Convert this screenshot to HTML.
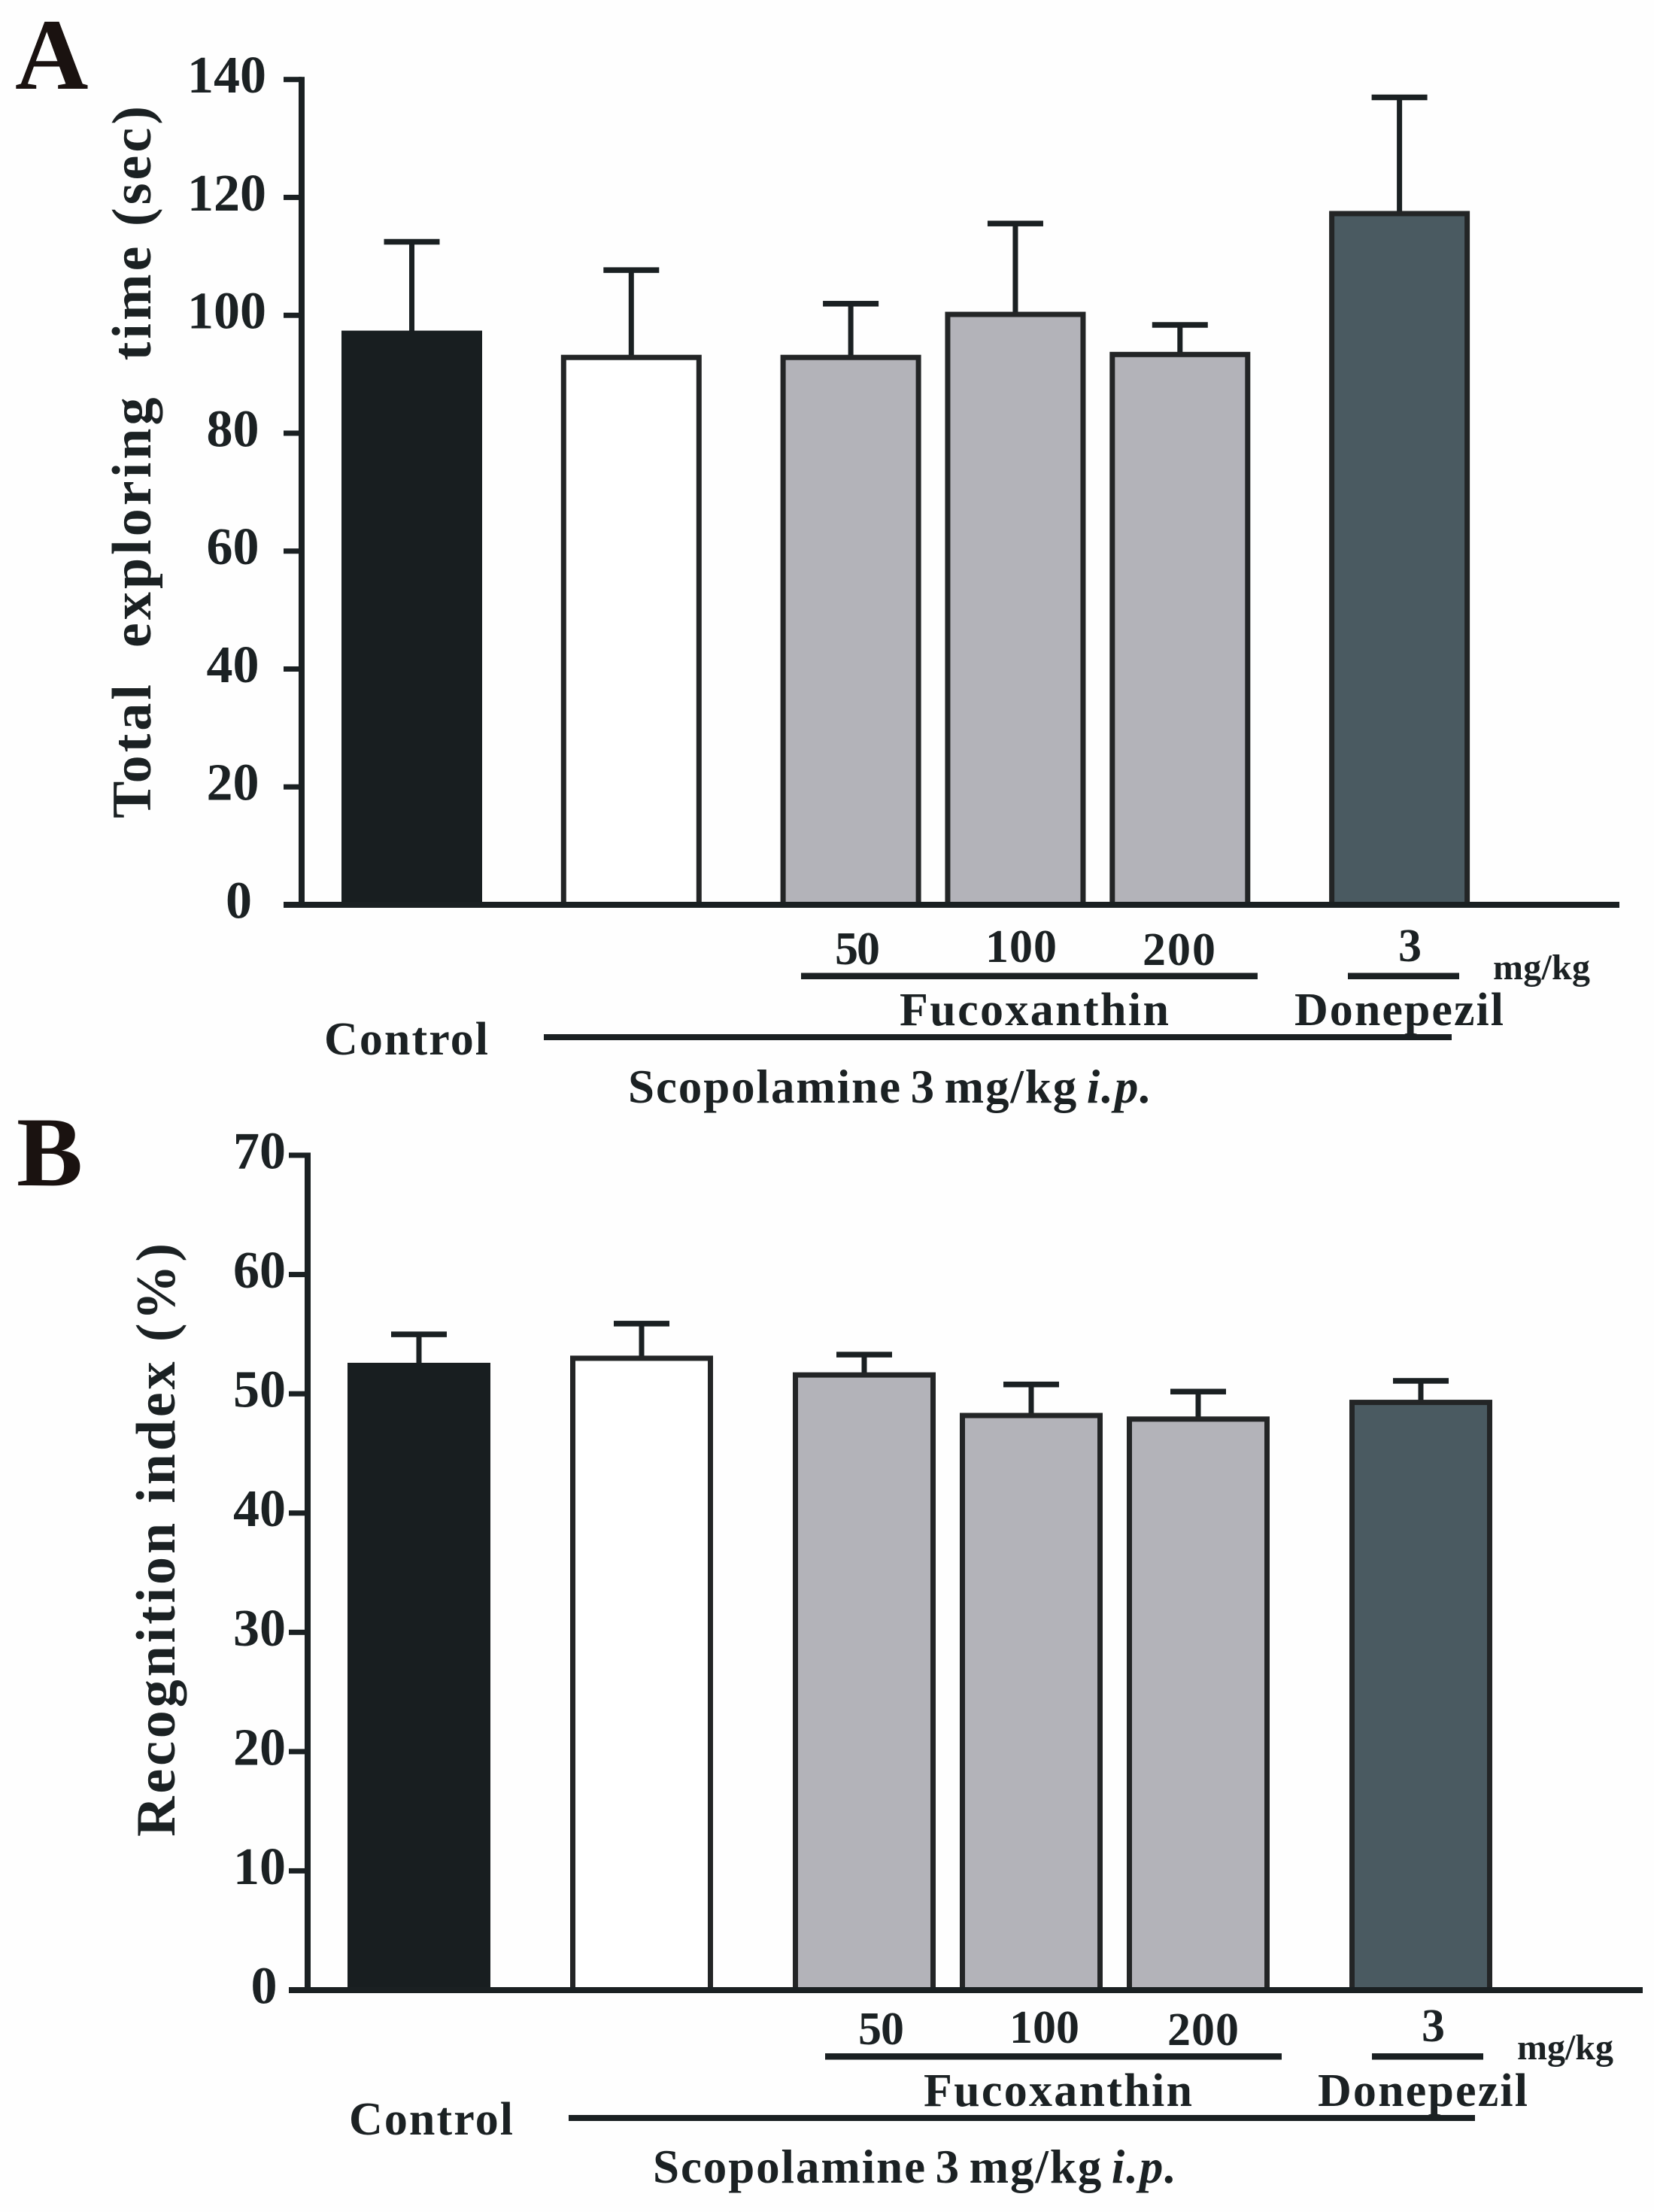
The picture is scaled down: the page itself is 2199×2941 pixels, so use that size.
<!DOCTYPE html>
<html lang="en">
<head>
<meta charset="utf-8">
<title>Total exploring time and recognition index</title>
<style>
html,body{margin:0;padding:0;background:#fefefe;}
svg{display:block;}
text{font-family:"Liberation Serif","Times New Roman",serif;font-weight:700;fill:#1b2123;}
</style>
</head>
<body>
<svg id="figure" xmlns="http://www.w3.org/2000/svg" width="2199" height="2941" viewBox="0 0 2199 2941">
  <rect x="0" y="0" width="2199" height="2941" fill="#fefefe"/>

  <g id="panel-a">
    <text x="20" y="118" font-size="135" style="fill:#1a1210">A</text>
    <text transform="translate(200,1088) rotate(-90)" font-size="74" textLength="947" lengthAdjust="spacing">Total&#160;&#160;exploring&#160;&#160;time (sec)</text>
    <text x="1110" y="1282" font-size="62" textLength="60">50</text>
    <text x="1310" y="1279" font-size="62" textLength="95">100</text>
    <text x="1519" y="1283" font-size="62" textLength="97">200</text>
    <text x="1859" y="1278" font-size="62">3</text>
    <text x="1985" y="1302" font-size="48" textLength="129">mg/kg</text>
    <rect x="1065" y="1293.500" width="607" height="8.500" fill="#1a2022"/>
    <rect x="1792" y="1293.500" width="148" height="8.500" fill="#1a2022"/>
    <text x="1196" y="1363" font-size="62" textLength="358">Fucoxanthin</text>
    <text x="1721" y="1363" font-size="62" textLength="278">Donepezil</text>
    <rect x="723" y="1375" width="1207" height="8" fill="#1a2022"/>
    <text x="431" y="1402" font-size="62" textLength="218">Control</text>
    <text x="835" y="1466" font-size="63" word-spacing="-6" textLength="696">Scopolamine 3 mg/kg <tspan font-style="italic">i.p.</tspan></text>
  </g>

  <g id="panel-b">
    <text x="22" y="1576" font-size="132" style="fill:#1a1210">B</text>
    <text transform="translate(232,2442) rotate(-90)" font-size="74" textLength="789" lengthAdjust="spacing">Recognition index (%)</text>
    <text x="1141" y="2718" font-size="62" textLength="61">50</text>
    <text x="1342" y="2716" font-size="62" textLength="93">100</text>
    <text x="1552" y="2719" font-size="62" textLength="95">200</text>
    <text x="1890" y="2714" font-size="62">3</text>
    <text x="2017" y="2738" font-size="48" textLength="128">mg/kg</text>
    <rect x="1097" y="2730" width="607" height="8.500" fill="#1a2022"/>
    <rect x="1824" y="2730" width="148" height="8.500" fill="#1a2022"/>
    <text x="1228" y="2800" font-size="62" textLength="357">Fucoxanthin</text>
    <text x="1752" y="2800" font-size="62" textLength="279">Donepezil</text>
    <rect x="756" y="2812" width="1205" height="8" fill="#1a2022"/>
    <text x="464" y="2838" font-size="62" textLength="218">Control</text>
    <text x="868" y="2902" font-size="63" word-spacing="-6" textLength="696">Scopolamine 3 mg/kg <tspan font-style="italic">i.p.</tspan></text>
  </g>
</svg>

<script>
var categories = ["control", "scopolamine", "fucoxanthin-50", "fucoxanthin-100", "fucoxanthin-200", "donepezil-3"];
var explorationMeans = [97.4, 93.3, 93.3, 100.6, 93.8, 117.7];
var explorationErrors = [15.1, 14.4, 8.7, 15.0, 4.6, 19.3];
var recognitionMeans = [52.6, 53.2, 51.8, 48.4, 48.1, 49.5];
var recognitionErrors = [2.4, 2.7, 1.5, 2.4, 2.1, 1.6];
var explorationTicks = [0, 20, 40, 60, 80, 100, 120, 140];
var recognitionTicks = [0, 10, 20, 30, 40, 50, 60, 70];

var SVG_NS = "http://www.w3.org/2000/svg";
var INK = "#1a2022";
var EDGE = "#232526";

function barFill(category) {
  if (category === "control") return "#181e20";
  if (category === "scopolamine") return "#ffffff";
  if (category === "donepezil-3") return "#4a5a61";
  return "#b3b3b9";
}

function barEdge(category) {
  return category === "control" ? "#181e20" : EDGE;
}

/* Categorical slots: treatment groups sit one slot apart, with one extra slot between groups. */
function slotOf(i) {
  return i * 3 + (i >= 1 ? 1 : 0) + (i >= 2 ? 1 : 0) + (i >= 5 ? 1 : 0);
}

function makeLinear(d0, d1, r0, r1) {
  return function (v) {
    return r0 + (v - d0) / (d1 - d0) * (r1 - r0);
  };
}

function makeRect(x, y, w, h, fill) {
  var el = document.createElementNS(SVG_NS, "rect");
  el.setAttribute("x", x);
  el.setAttribute("y", y);
  el.setAttribute("width", w);
  el.setAttribute("height", h);
  el.setAttribute("fill", fill);
  return el;
}

function drawPanel(opts) {
  var host = document.getElementById(opts.hostId);
  var suffix = opts.suffix;
  var y = makeLinear(0, opts.ticks[opts.ticks.length - 1], opts.zeroY, opts.topY);
  var x = function (i) { return opts.firstCenter + opts.slotWidth * slotOf(i); };

  opts.means.forEach(function (mean, i) {
    var cx = x(i);
    var topEdge = y(mean);
    var capY = y(mean + opts.errors[i]);

    var stem = makeRect(cx - 3.5, capY, 7, topEdge - capY + 2, INK);
    
    
    host.appendChild(stem);

    var cap = makeRect(cx - 37, capY - 3.5, 74, 7.5, INK);
    
    
    host.appendChild(cap);

    var bar = makeRect(cx - opts.barWidth / 2 + 3.5, topEdge + 3.5, opts.barWidth - 7, opts.zeroY - topEdge - 3.5, barFill(categories[i]));
    bar.setAttribute("stroke", barEdge(categories[i]));
    bar.setAttribute("stroke-width", "7");
    
    
    host.appendChild(bar);
  });

  var yAxis = makeRect(opts.axisX - 4, opts.topY - 3.5, 8, opts.zeroY - opts.topY + 3.5, INK);
  
  
  host.appendChild(yAxis);

  var xAxis = makeRect(opts.tickLeft, opts.zeroY - 4, opts.axisRight - opts.tickLeft, 8, INK);
  
  
  host.appendChild(xAxis);

  opts.ticks.forEach(function (t) {
    var ty = y(t);
    if (t !== 0) {
      var tick = makeRect(opts.tickLeft, ty - 3.5, opts.axisX - opts.tickLeft, 7, INK);
      
      
      host.appendChild(tick);
    }
    var label = String(t);
    var txt = document.createElementNS(SVG_NS, "text");
    txt.setAttribute("x", opts.labelRightBase + opts.labelRightStep * label.length);
    txt.setAttribute("y", ty + 17.5);
    txt.setAttribute("text-anchor", "end");
    txt.setAttribute("font-size", "70");
    txt.textContent = label;
    
    
    host.appendChild(txt);
  });
}

drawPanel({
  hostId: "panel-a", suffix: "a",
  means: explorationMeans, errors: explorationErrors, ticks: explorationTicks,
  zeroY: 1203, topY: 105.7, axisX: 401, tickLeft: 377, axisRight: 2153,
  firstCenter: 547.5, slotWidth: 72.95, barWidth: 187,
  labelRightBase: 325.5, labelRightStep: 9.5
});

drawPanel({
  hostId: "panel-b", suffix: "b",
  means: recognitionMeans, errors: recognitionErrors, ticks: recognitionTicks,
  zeroY: 2646, topY: 1536, axisX: 409, tickLeft: 384, axisRight: 2184,
  firstCenter: 557, slotWidth: 74, barWidth: 190,
  labelRightBase: 357, labelRightStep: 11.5
});
</script>
</body>
</html>
